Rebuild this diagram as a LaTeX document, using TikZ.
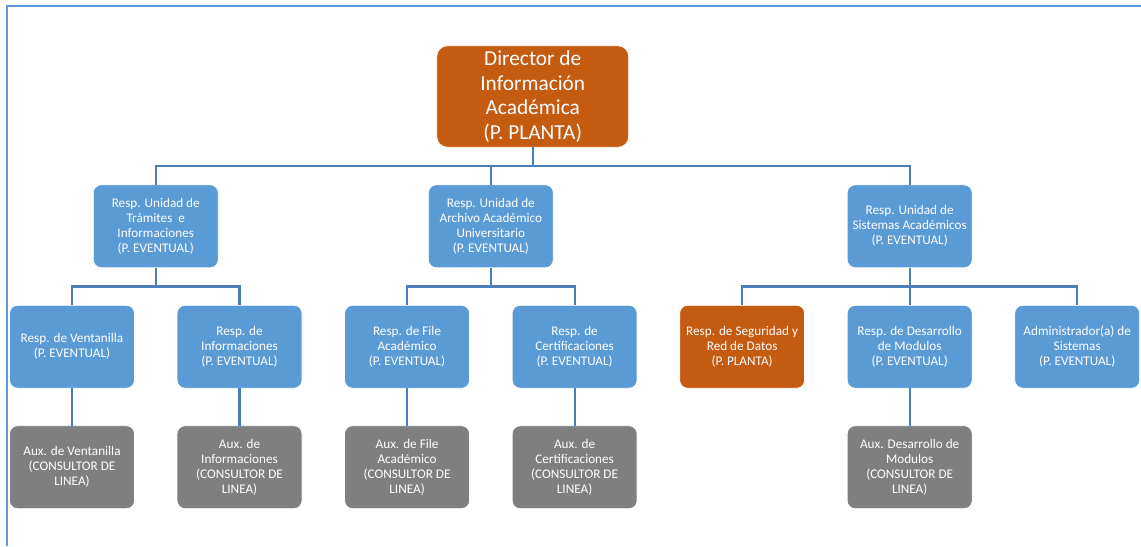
\documentclass[tikz,border=0pt]{standalone}
\usepackage{fontspec}
\setmainfont{Carlito}
\usetikzlibrary{positioning,calc}
\definecolor{boxblue}{HTML}{5B9BD5}
\definecolor{boxorange}{HTML}{C55A11}
\definecolor{boxgray}{HTML}{7F7F7F}
\definecolor{linkblue}{HTML}{4A7EBB}

\begin{document}
\begin{tikzpicture}[
    unit/.style={rounded corners=6pt, draw=white, line width=.6pt, fill=boxblue,
      text=white, align=center, minimum width=93.75pt, minimum height=62.25pt,
      inner sep=1pt, outer sep=0pt, font=\fontsize{9.9}{11.25}\selectfont},
    planta/.style={unit, fill=boxorange},
    aux/.style={unit, fill=boxgray},
    link/.style={draw=linkblue, line width=1.6pt},
    node distance=28.1pt and 31.9pt]
  \useasboundingbox (0,0) rectangle (855.75pt,-409.5pt);
  \draw[boxblue, line width=1.5pt] (5.25pt,-409.5pt) -- (5.25pt,-4.5pt) -- (855.75pt,-4.5pt);
  % third row
  \node[unit] (vent) at (54pt,-260.06pt) {Resp. de Ventanilla\\(P. EVENTUAL)};
  \node[unit, right=of vent] (info) {Resp. de\\Informaciones\\(P. EVENTUAL)};
  \node[unit, right=of info] (file) {Resp. de File\\Académico\\(P. EVENTUAL)};
  \node[unit, right=of file] (cert) {Resp. de\\Certificaciones\\(P. EVENTUAL)};
  \node[planta, right=of cert] (segu) {Resp. de Seguridad y\\Red de Datos\\(P. PLANTA)};
  \node[unit, right=of segu] (desa) {Resp. de Desarrollo\\de Modulos\\(P. EVENTUAL)};
  \node[unit, right=of desa] (admin) {Administrador(a) de\\Sistemas\\(P. EVENTUAL)};
  % fourth row
  \node[aux, below=of vent] (avent) {Aux. de Ventanilla\\(CONSULTOR DE\\LINEA)};
  \node[aux, below=of info] (ainfo) {Aux. de\\Informaciones\\(CONSULTOR DE\\LINEA)};
  \node[aux, below=of file] (afile) {Aux. de File\\Académico\\(CONSULTOR DE\\LINEA)};
  \node[aux, below=of cert] (acert) {Aux. de\\Certificaciones\\(CONSULTOR DE\\LINEA)};
  \node[aux, below=of desa] (adesa) {Aux. Desarrollo de\\Modulos\\(CONSULTOR DE\\LINEA)};
  % second row
  \coordinate (mtram) at ($(vent.north)!.5!(info.north)$);
  \coordinate (march) at ($(file.north)!.5!(cert.north)$);
  \node[unit, above=of mtram] (tram) {Resp. Unidad de\\Trámites\ \ e\\Informaciones\\(P. EVENTUAL)};
  \node[unit, above=of march] (arch) {Resp. Unidad de\\Archivo Académico\\Universitario\\(P. EVENTUAL)};
  \node[unit, above=of desa] (sist) {Resp. Unidad de\\Sistemas Académicos\\(P. EVENTUAL)};
  % top
  \coordinate (mdir) at ($(tram.north)!.5!(sist.north)$);
  \node[planta, above=of mdir, minimum width=144pt, minimum height=76.2pt,
    rounded corners=8pt, font=\fontsize{16}{18.5}\selectfont] (dir)
    {Director de\\Información\\Académica\\(P. PLANTA)};
  \foreach \p/\c in {dir/tram, dir/arch, dir/sist, tram/vent, tram/info, arch/file,
      arch/cert, sist/segu, sist/desa, sist/admin, vent/avent, info/ainfo,
      file/afile, cert/acert, desa/adesa}
    \draw[link] (\p.south) -- ++(0,-14.05pt) -| (\c.north);
\end{tikzpicture}
\end{document}
